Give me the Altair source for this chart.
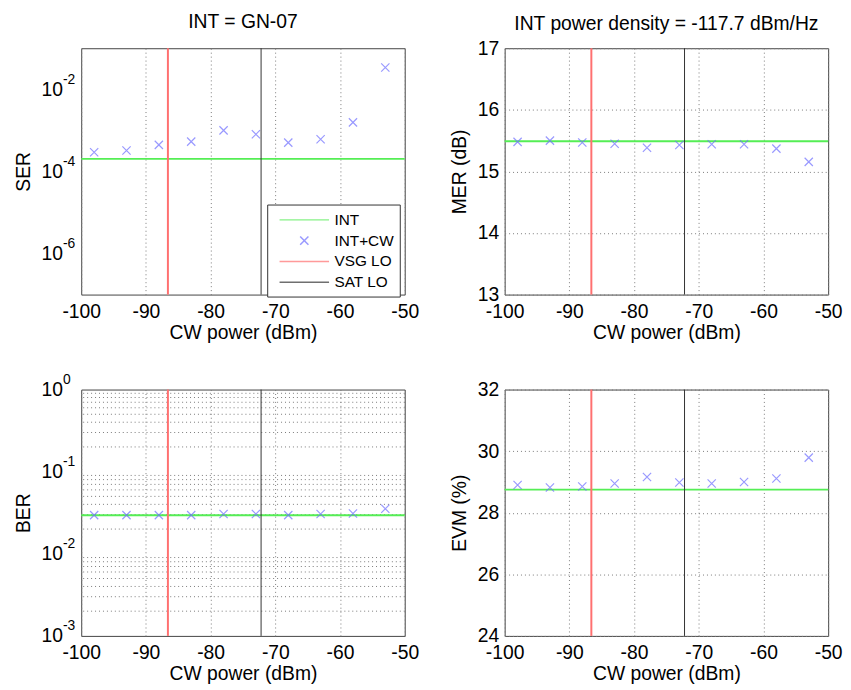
import altair as alt
import pandas as pd

# ---------------- data ----------------
cw_power = [-98, -93, -88, -83, -78, -73, -68, -63, -58, -53]

ser_int_cw = [2.94e-4, 3.22e-4, 4.42e-4, 5.32e-4, 1.0e-3, 8.0e-4, 5.03e-4, 6.05e-4, 1.56e-3, 3.4e-2]
ser_int = 2.02e-4

mer_int_cw = [15.48, 15.50, 15.47, 15.45, 15.385, 15.43, 15.44, 15.44, 15.37, 15.155]
mer_int = 15.49

ber_int_cw = [0.0296, 0.0296, 0.0296, 0.0296, 0.0305, 0.0305, 0.0296, 0.0305, 0.0310, 0.0353]
ber_int = 0.0294

evm_int_cw = [28.90, 28.82, 28.85, 28.95, 29.16, 28.98, 28.95, 29.00, 29.11, 29.79]
evm_int = 28.75

vsg_lo = -86.6
sat_lo = -72.2

x_ticks = [-100, -90, -80, -70, -60, -50]
ser_ticks = [1e-6, 1e-4, 1e-2]
ber_ticks = [1e-3, 1e-2, 1e-1, 1]
ber_minor = [m * 10.0 ** e for e in (-3, -2, -1) for m in range(2, 10)]
mer_ticks = [13, 14, 15, 16, 17]
evm_ticks = [24, 26, 28, 30, 32]

series_names = ["INT", "INT+CW", "VSG LO", "SAT LO"]
series_colors = ["#55ee55", "#6f6fff", "#ff7070", "#333333"]
LINE_PATH = "M-3,0L3,0"
X_PATH = "M-0.5,-0.5L0.5,0.5M-0.5,0.5L0.5,-0.5"
series_shapes = [LINE_PATH, X_PATH, LINE_PATH, LINE_PATH]

FONT = "Liberation Sans"
FS = 19.5
EXP_FS = 14
W, H = 327, 249
GRID_DASH = [1, 3]
GRID_COLOR = "#7a7a7a"

x_enc = alt.X(
    "cw:Q",
    scale=alt.Scale(domain=[-100, -50], nice=False),
    axis=alt.Axis(values=x_ticks, title="CW power (dBm)", labelFlush=False,
                  ticks=False, labelPadding=8, titlePadding=3, labelExpr="'' + datum.value"),
)


def panel(values, int_value, y_title, y_scale, ticks, log=False, legend=False, minor=None,
          title=None, title_dy=0):
    pts = pd.DataFrame({"cw": cw_power, "val": values, "series": "INT+CW"})
    if log:
        main_axis = alt.Axis(values=ticks, labelExpr="'10'", ticks=False, labelPadding=19,
                             titlePadding=8, title=y_title, orient="left")
        exp_axis = alt.Axis(values=ticks, labelExpr="'' + round(log(datum.value)/LN10)",
                            ticks=False, labelPadding=19, labelAlign="left", labelOffset=-10,
                            labelFontSize=EXP_FS, grid=False, orient="left", title=None)
        other_axis = None
    else:
        main_axis = alt.Axis(values=ticks, format="d", ticks=False, labelPadding=6,
                             titlePadding=8, title=y_title)
        exp_axis = main_axis
        other_axis = main_axis

    def y(axis):
        return alt.Y("val:Q", scale=y_scale, axis=axis, title=y_title)

    layers = []
    if minor is not None:
        layers.append(
            alt.Chart(pd.DataFrame({"val": minor})).mark_rule(
                color=GRID_COLOR, strokeDash=GRID_DASH, strokeWidth=1
            ).encode(y=y(other_axis))
        )
    layers.append(
        alt.Chart(pd.DataFrame({"val": [int_value]})).mark_rule(
            color=series_colors[0], strokeWidth=2
        ).encode(y=y(exp_axis))
    )
    if legend:
        leg = alt.Legend(title=None, orient="none", legendX=188, legendY=158)
        color = alt.Color("series:N", scale=alt.Scale(domain=series_names, range=series_colors),
                          legend=leg)
        shape = alt.Shape("series:N", scale=alt.Scale(domain=series_names, range=series_shapes),
                          legend=leg)
        pt = alt.Chart(pts).mark_point(filled=False, size=278, strokeWidth=1.2).encode(
            x=x_enc, y=y(main_axis), color=color, shape=shape)
    else:
        pt = alt.Chart(pts).mark_point(filled=False, size=278, strokeWidth=1.2,
                                       color=series_colors[1], shape=X_PATH).encode(
            x=x_enc, y=y(main_axis))
    layers.append(pt)
    layers.append(
        alt.Chart(pd.DataFrame({"cw": [vsg_lo]})).mark_rule(color=series_colors[2], strokeWidth=2)
        .encode(x=x_enc)
    )
    layers.append(
        alt.Chart(pd.DataFrame({"cw": [sat_lo]})).mark_rule(color=series_colors[3], strokeWidth=1)
        .encode(x=x_enc)
    )
    props = dict(width=W, height=H)
    if title is not None:
        props["title"] = alt.TitleParams(title, fontSize=FS, fontWeight="normal", font=FONT,
                                         color="black", offset=12, baseline="bottom", dy=title_dy)
    ch = alt.layer(*layers).properties(**props)
    if log:
        ch = ch.resolve_axis(y="independent")
    return ch


tl = panel(ser_int_cw, ser_int, "SER", alt.Scale(type="log", domain=[1e-7, 1e-1], nice=False),
           ser_ticks, log=True, legend=True, title="INT = GN-07", title_dy=16)
tr = panel(mer_int_cw, mer_int, "MER (dB)", alt.Scale(domain=[13, 17], nice=False, zero=False),
           mer_ticks, title="INT power density = -117.7 dBm/Hz", title_dy=27)
bl = panel(ber_int_cw, ber_int, "BER", alt.Scale(type="log", domain=[1e-3, 1], nice=False),
           ber_ticks, log=True, minor=ber_minor)
br = panel(evm_int_cw, evm_int, "EVM (%)", alt.Scale(domain=[24, 32], nice=False, zero=False),
           evm_ticks)

chart = alt.concat(tl, tr, bl, br, columns=2, spacing={"row": 96, "column": 101}).properties(
    bounds="flush", padding={"left": 4, "top": 0, "right": 0, "bottom": 0}
).configure(font=FONT).configure_view(
    stroke="#444444", strokeWidth=1
).configure_axis(
    domain=False, grid=True, gridDash=GRID_DASH, gridColor=GRID_COLOR, gridOpacity=1,
    labelFont=FONT, labelFontSize=FS, labelColor="black",
    titleFont=FONT, titleFontSize=FS, titleFontWeight="normal", titleColor="black",
).configure_legend(
    labelFont=FONT, labelFontSize=15.5, labelColor="black",
    strokeColor="#333333", fillColor="white", padding=6, cornerRadius=0,
    symbolSize=278, symbolStrokeWidth=1.5, symbolOffset=22, labelOffset=21, rowPadding=3,
    symbolFillColor="transparent",
)

chart.save("out.html", embed_options={"renderer": "svg", "actions": False})
